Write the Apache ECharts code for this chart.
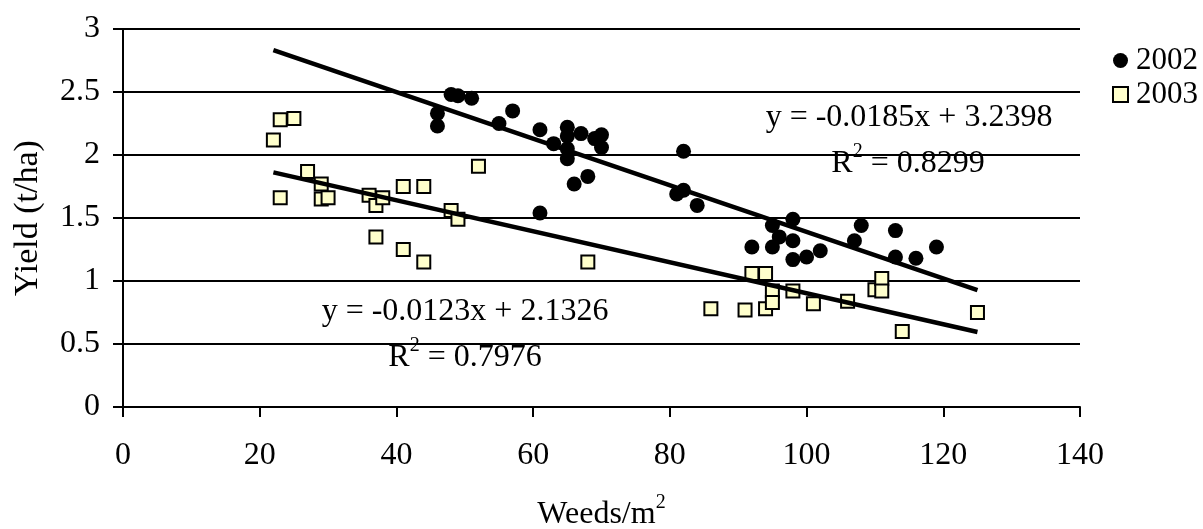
<!DOCTYPE html>
<html>
<head>
<meta charset="utf-8">
<script src="https://cdn.jsdelivr.net/npm/echarts@6/dist/echarts.min.js"></script>
<style>
html,body{margin:0;padding:0;background:#fff;}
#chart{width:1203px;height:529px;}
</style>
</head>
<body>
<div id="chart"></div>
<script>
// ---- data ----
const x2002 = [46,46,48,49,51,55,57,61,61,63,65,65,65,65,66,67,68,69,70,70,81,82,82,84,92,95,95,96,98,98,98,100,102,107,108,113,113,116,119];
const y2002 = [2.33,2.23,2.48,2.47,2.45,2.25,2.35,2.20,1.54,2.09,2.22,2.15,2.05,1.97,1.77,2.17,1.83,2.13,2.16,2.06,1.69,2.03,1.72,1.60,1.27,1.44,1.27,1.35,1.49,1.32,1.17,1.19,1.24,1.32,1.44,1.40,1.19,1.18,1.27];
const x2003 = [22,23,25,23,27,29,29,30,36,37,38,41,44,37,41,44,48,49,52,68,86,91,92,94,94,95,95,98,101,106,110,111,111,114,125];
const y2003 = [2.12,2.28,2.29,1.66,1.87,1.77,1.65,1.66,1.68,1.60,1.66,1.75,1.75,1.35,1.25,1.15,1.56,1.49,1.91,1.15,0.78,0.77,1.06,1.06,0.78,0.92,0.83,0.92,0.82,0.84,0.93,1.02,0.92,0.60,0.75];
const seriesNames = ['2002','2003'];
const trendSlope = [-0.0185, -0.0123];
const trendIntercept = [3.2398, 2.1326];
const trendR2 = ['0.8299','0.7976'];
const trendRange = [22, 125];
const xTicks = [0,20,40,60,80,100,120,140];
const yTicks = [0,0.5,1,1.5,2,2.5,3];

const FONT = "'Liberation Serif','Times New Roman',serif";
const FS = 32;
const zip = (xs, ys) => xs.map((v,i)=>[v, ys[i]]);
const trend = (k) => trendRange.map(x => [x, trendSlope[k]*x + trendIntercept[k]]);
const fmtEq = (k) => 'y = ' + trendSlope[k].toFixed(4) + 'x + ' + trendIntercept[k].toFixed(4);

const chart = echarts.init(document.getElementById('chart'));
const supRich = {
  n: {fontSize: FS, fontFamily: FONT, color: '#000', padding: [6,0,0,0]},
  s: {fontSize: 20, fontFamily: FONT, color: '#000', verticalAlign: 'top'}
};
chart.setOption({
  animation: false,
  backgroundColor: '#fff',
  textStyle: {fontFamily: FONT, color: '#000'},
  grid: {left: 123, right: 123, top: 29, bottom: 122, containLabel: false, outerBoundsMode: 'none'},
  legend: {
    orient: 'vertical', left: 1107, top: 40, itemGap: 3,
    itemWidth: 15, itemHeight: 15,
    textStyle: {fontSize: 31, fontFamily: FONT, color: '#000', padding:[0,0,0,3]},
    data: seriesNames
  },
  xAxis: {
    type: 'value', min: 0, max: 140, interval: 20,
    name: '{n|Weeds/m}{s|2}', nameLocation: 'middle', nameGap: 86,
    nameTextStyle: {rich: supRich},
    axisLine: {lineStyle: {color: '#000', width: 2}},
    axisTick: {show: true, length: 10, lineStyle: {color: '#000', width: 2}},
    axisLabel: {fontSize: FS, fontFamily: FONT, color: '#000', margin: 33},
    splitLine: {show: false}
  },
  yAxis: {
    type: 'value', min: 0, max: 3, interval: 0.5,
    name: 'Yield (t/ha)', nameLocation: 'middle', nameGap: 78,
    nameTextStyle: {fontSize: 34, fontFamily: FONT, color: '#000'},
    axisLine: {show: true, lineStyle: {color: '#000', width: 2}},
    axisTick: {show: true, length: 10, lineStyle: {color: '#000', width: 2}},
    axisLabel: {fontSize: FS, fontFamily: FONT, color: '#000', margin: 23},
    splitLine: {show: true, lineStyle: {color: '#000', width: 2}}
  },
  series: [
    {name: seriesNames[0], type: 'scatter', symbol: 'circle', symbolSize: 15,
     itemStyle: {color: '#000', opacity: 1}, data: zip(x2002, y2002), z: 3},
    {name: seriesNames[1], type: 'scatter', symbol: 'rect', symbolSize: 13,
     itemStyle: {color: '#FFFFCC', borderColor: '#000', borderWidth: 2, opacity: 1}, data: zip(x2003, y2003), z: 3},
    {name: 'trend2002', type: 'line', data: trend(0), showSymbol: false, symbol: 'none',
     lineStyle: {color: '#000', width: 4.5}, z: 4, silent: true},
    {name: 'trend2003', type: 'line', data: trend(1), showSymbol: false, symbol: 'none',
     lineStyle: {color: '#000', width: 4.5}, z: 4, silent: true}
  ],
  graphic: [
    {type: 'text', position: [909, 118], style: {text: fmtEq(0), font: FS + 'px ' + FONT, fill: '#000', textAlign: 'center', textVerticalAlign: 'middle'}, z: 10},
    {type: 'text', position: [908, 161], style: {text: '{n|R}{s|2}{n| = ' + trendR2[0] + '}', rich: supRich, textAlign: 'center', textVerticalAlign: 'middle'}, z: 10},
    {type: 'text', position: [465, 312], style: {text: fmtEq(1), font: FS + 'px ' + FONT, fill: '#000', textAlign: 'center', textVerticalAlign: 'middle'}, z: 10},
    {type: 'text', position: [465, 355], style: {text: '{n|R}{s|2}{n| = ' + trendR2[1] + '}', rich: supRich, textAlign: 'center', textVerticalAlign: 'middle'}, z: 10}
  ]
});
</script>
</body>
</html>
